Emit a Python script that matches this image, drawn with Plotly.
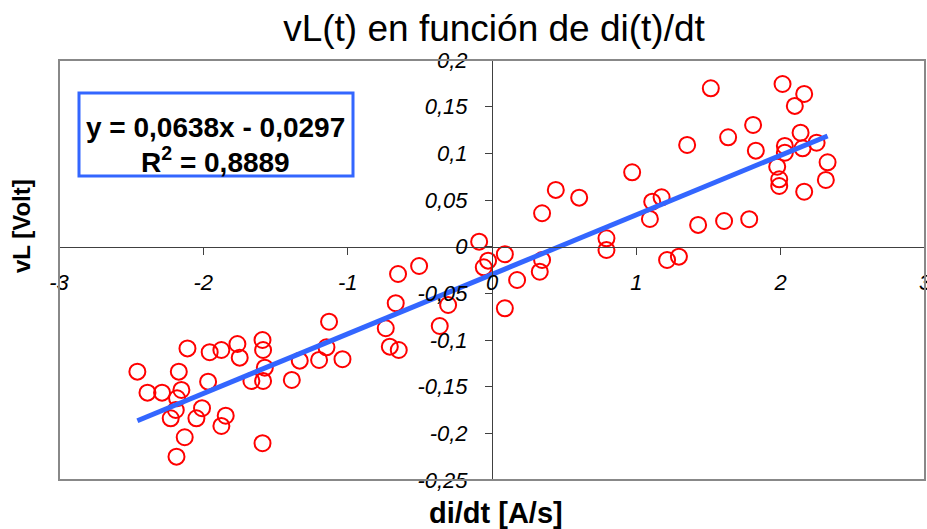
import plotly.graph_objects as go

# ---- data ----
di_dt = [
    -2.11, -1.956, -1.875, -1.764, -1.748, -1.590, -1.586, -2.457, -2.170, -1.574,
    -1.667, -1.586, -1.387, -1.967, -2.387, -2.286, -2.152, -2.182, -2.191, -2.009,
    -2.226, -2.048, -1.845, -1.875, -2.129, -1.590, -2.186,
    -0.505, -0.651, -0.667, -1.129, -0.736, -0.362, -0.304, -0.708, -0.646,
    -1.147, -1.332, -1.198, -1.036, -0.089, -0.027, -0.057,
    0.089, 0.174, 0.089, 0.347, 0.442, 0.604, 0.347, 0.331, 0.793, 0.793,
    0.971, 1.110, 1.175, 1.094, 1.213, 1.295, 1.428,
    1.516, 2.013, 2.163, 2.098, 1.809, 1.636, 1.352, 2.138, 2.029, 2.029,
    2.152, 2.249, 1.828, 1.976, 1.990, 1.990, 2.325, 2.313, 2.163, 1.608, 1.782,
]
vL = [
    -0.109, -0.1131, -0.1107, -0.1043, -0.1189, -0.1000, -0.1107, -0.1339, -0.1339, -0.1296,
    -0.1439, -0.1439, -0.1428, -0.1446, -0.1564, -0.1564, -0.1535, -0.1624, -0.1750, -0.1731,
    -0.1839, -0.1839, -0.1811, -0.1921, -0.2042, -0.2106, -0.2250,
    -0.0207, -0.0293, -0.0606, -0.0804, -0.0874, -0.0850, -0.0625, -0.1071, -0.1107,
    -0.1078, -0.1221, -0.1214, -0.1206, 0.0054, -0.0150, -0.0221,
    -0.0081, -0.0357, -0.0660, 0.0358, 0.0608, 0.0525, -0.0143, -0.0268, 0.0090, -0.0035,
    0.0797, 0.0482, 0.0529, 0.0297, -0.0143, -0.0107, 0.0233,
    0.1697, 0.1743, 0.1636, 0.1508, 0.1304, 0.1172, 0.1090, 0.1221, 0.1079, 0.1007,
    0.1054, 0.1114, 0.1029, 0.0857, 0.0722, 0.0650, 0.0904, 0.0715, 0.0589, 0.0275, 0.0294,
]
slope = 0.0638
intercept = -0.0297
r_squared = 0.8889

x_tickvals = [-3, -2, -1, 0, 1, 2, 3]
x_ticktext = ["-3", "-2", "-1", "0", "1", "2", "3"]
y_tickvals = [0.2, 0.15, 0.1, 0.05, 0, -0.05, -0.1, -0.15, -0.2, -0.25]
y_ticktext = ["0,2", "0,15", "0,1", "0,05", "0", "-0,05", "-0,1", "-0,15", "-0,2", "-0,25"]

title_text = "vL(t) en función de di(t)/dt"
x_title = "di/dt [A/s]"
y_title = "vL [Volt]"

# ---- build figure ----
FONT = "Arial, 'Liberation Sans', sans-serif"
W, H = 927, 529
L, R, T, B = 59, 2, 60, 49
PW, PH = W - L - R, H - T - B


def px(xp):
    return (xp - L) / PW


def py(yp):
    return (H - B - yp) / PH


x_min, x_max = min(di_dt), max(di_dt)
trend_x = [x_min, x_max]
trend_y = [slope * v + intercept for v in trend_x]


def fmt(v, n):
    return f"{abs(v):.{n}f}".replace(".", ",")


eq_line1 = f"<b>y = {fmt(slope, 4)}x {'-' if intercept < 0 else '+'} {fmt(intercept, 4)}</b>"
eq_line2 = f"<b>R<sup>2</sup> = {fmt(r_squared, 4)}</b>"

fig = go.Figure()
fig.add_trace(go.Scatter(
    x=di_dt, y=vL, mode="markers",
    marker=dict(symbol="circle-open", size=16, color="#FF0000", line=dict(width=2, color="#FF0000")),
    showlegend=False,
))
fig.add_trace(go.Scatter(
    x=trend_x, y=trend_y, mode="lines",
    line=dict(color="#3366FF", width=5),
    showlegend=False,
))

axis_color = "#404040"
fig.update_layout(
    width=W, height=H,
    margin=dict(l=L, r=R, t=T, b=B, autoexpand=False),
    paper_bgcolor="white", plot_bgcolor="white",
    separators=", ",
    font=dict(family=FONT, color="black"),
    title=dict(text=title_text, x=494 / W, xanchor="center", y=1 - 28 / H, yanchor="middle",
               font=dict(family=FONT, size=37, color="black")),
    xaxis=dict(
        range=[-3, 3], domain=[0, 1], anchor="free", position=0.25 / 0.45,
        automargin=False,
        showgrid=False, zeroline=False, showline=True, linecolor=axis_color, linewidth=1,
        ticks="outside", ticklen=7, tickcolor=axis_color, tickwidth=1,
        tickvals=x_tickvals, ticktext=x_ticktext, ticklabelstandoff=9,
        ticklabeloverflow="allow",
        tickfont=dict(family=FONT, size=22, style="italic", color="black"),
    ),
    yaxis=dict(
        range=[-0.25, 0.2], domain=[0, 1], anchor="free", position=0.5,
        automargin=False,
        showgrid=False, zeroline=False, showline=True, linecolor=axis_color, linewidth=1,
        ticks="outside", ticklen=7, tickcolor=axis_color, tickwidth=1,
        tickvals=y_tickvals, ticktext=y_ticktext, ticklabelstandoff=13,
        ticklabeloverflow="allow",
        tickfont=dict(family=FONT, size=22, style="italic", color="black"),
    ),
    shapes=[
        dict(type="rect", xref="paper", yref="paper", x0=0, x1=1, y0=0, y1=1,
             line=dict(color="#888888", width=2), layer="above"),
        dict(type="rect", xref="paper", yref="paper", x0=px(79), x1=px(353), y0=py(176), y1=py(93),
             line=dict(color="#3366FF", width=3), fillcolor="white", layer="above"),
    ],
    annotations=[
        dict(text=eq_line1, xref="paper", yref="paper", x=px(215), y=py(128),
             xanchor="center", yanchor="middle", showarrow=False,
             font=dict(family=FONT, size=28, color="black")),
        dict(text=eq_line2, xref="paper", yref="paper", x=px(215), y=py(160),
             xanchor="center", yanchor="middle", showarrow=False,
             font=dict(family=FONT, size=28, color="black")),
        dict(text=f"<b>{x_title}</b>", xref="paper", yref="paper", x=px(496),
             y=py(513), xanchor="center", yanchor="middle", showarrow=False,
             font=dict(family=FONT, size=29, color="black")),
        dict(text=f"<b>{y_title}</b>", xref="paper", yref="paper", x=px(21),
             y=py(226), xanchor="center", yanchor="middle", showarrow=False,
             textangle=-90, font=dict(family=FONT, size=24, color="black")),
    ],
)

fig.write_html("out.html", config={"displayModeBar": False},
               post_script="document.body.style.margin='0';document.body.style.overflow='hidden';")
